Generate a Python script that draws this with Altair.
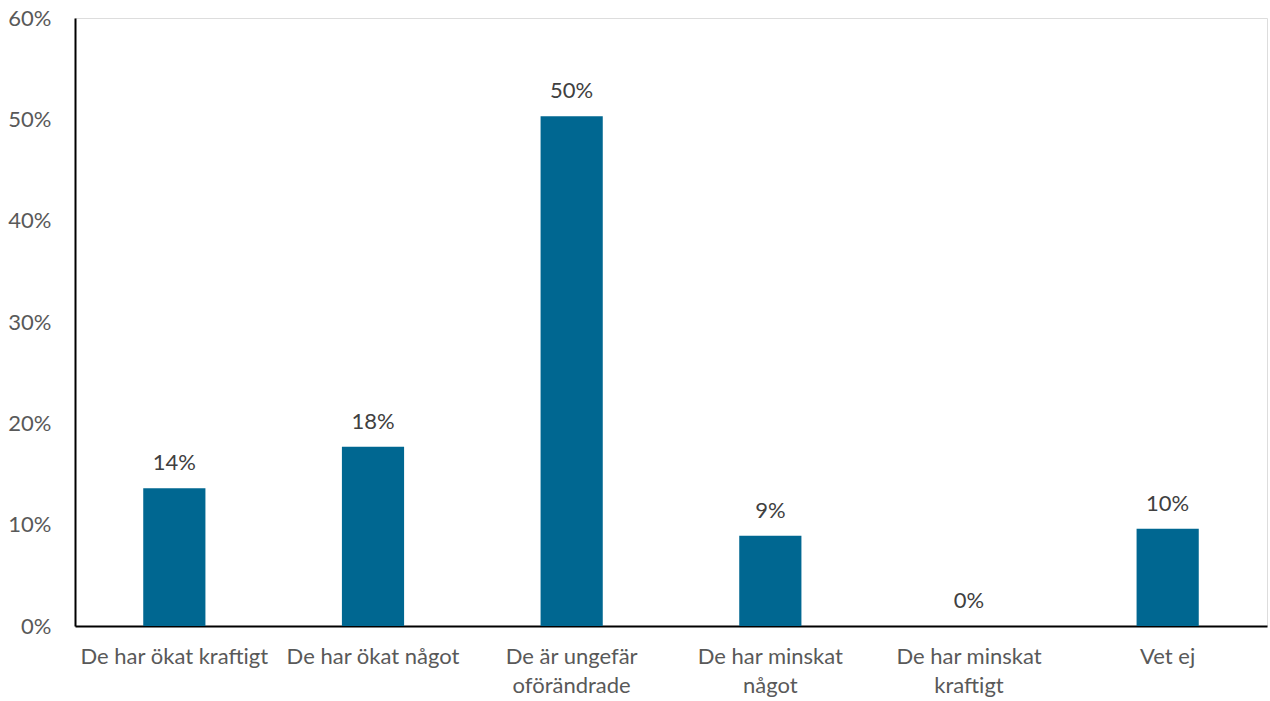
import altair as alt
import pandas as pd

categories = [
    "De har ökat kraftigt",
    "De har ökat något",
    "De är ungefär oförändrade",
    "De har minskat något",
    "De har minskat kraftigt",
    "Vet ej",
]
label_lines = [
    ["De har ökat kraftigt"],
    ["De har ökat något"],
    ["De är ungefär", "oförändrade"],
    ["De har minskat", "något"],
    ["De har minskat", "kraftigt"],
    ["Vet ej"],
]
values = [0.136, 0.177, 0.503, 0.089, 0.0, 0.096]
value_labels = ["14%", "18%", "50%", "9%", "0%", "10%"]

df = pd.DataFrame({"cat": categories, "val": values, "lbl": value_labels})

expr_parts = []
for c, lines in zip(categories, label_lines):
    arr = "[" + ",".join("'" + l + "'" for l in lines) + "]"
    expr_parts.append(f"datum.value == '{c}' ? {arr} : ")
label_expr = "".join(expr_parts) + "datum.label"

FONT = "Lato"
FS = 22

x = alt.X(
    "cat:N",
    sort=categories,
    title=None,
    scale=alt.Scale(paddingInner=0.687, paddingOuter=0.3435),
    axis=alt.Axis(
        labelExpr=label_expr,
        labelAngle=0,
        labelFont=FONT,
        labelFontSize=FS,
        labelColor="#595959",
        labelPadding=20,
        labelLineHeight=29,
        ticks=False,
        domainColor="#000000",
        domainWidth=2,
        labelLimit=400,
    ),
)
y = alt.Y(
    "val:Q",
    title=None,
    scale=alt.Scale(domain=[0, 0.6]),
    axis=alt.Axis(
        values=[0, 0.1, 0.2, 0.3, 0.4, 0.5, 0.6],
        format=".0%",
        grid=False,
        ticks=False,
        labelFont=FONT,
        labelFontSize=FS,
        labelColor="#595959",
        labelPadding=24,
        domainColor="#000000",
        domainWidth=2,
    ),
)

bars = alt.Chart(df).mark_bar(color="#006791").encode(x=x, y=y)
text = alt.Chart(df).mark_text(
    dy=-25, font=FONT, fontSize=FS, color="#404040", baseline="middle"
).encode(x=alt.X("cat:N", sort=categories), y="val:Q", text="lbl:N")

chart = (
    alt.layer(bars, text)
    .properties(
        width=1192,
        height=608,
        autosize=alt.AutoSizeParams(type="none"),
        padding={"left": 75, "top": 18, "right": 3, "bottom": 75},
    )
    .configure_view(stroke=None)
    .configure(background="white")
)

chart.save("out.html", embed_options={"renderer": "svg", "actions": False})
